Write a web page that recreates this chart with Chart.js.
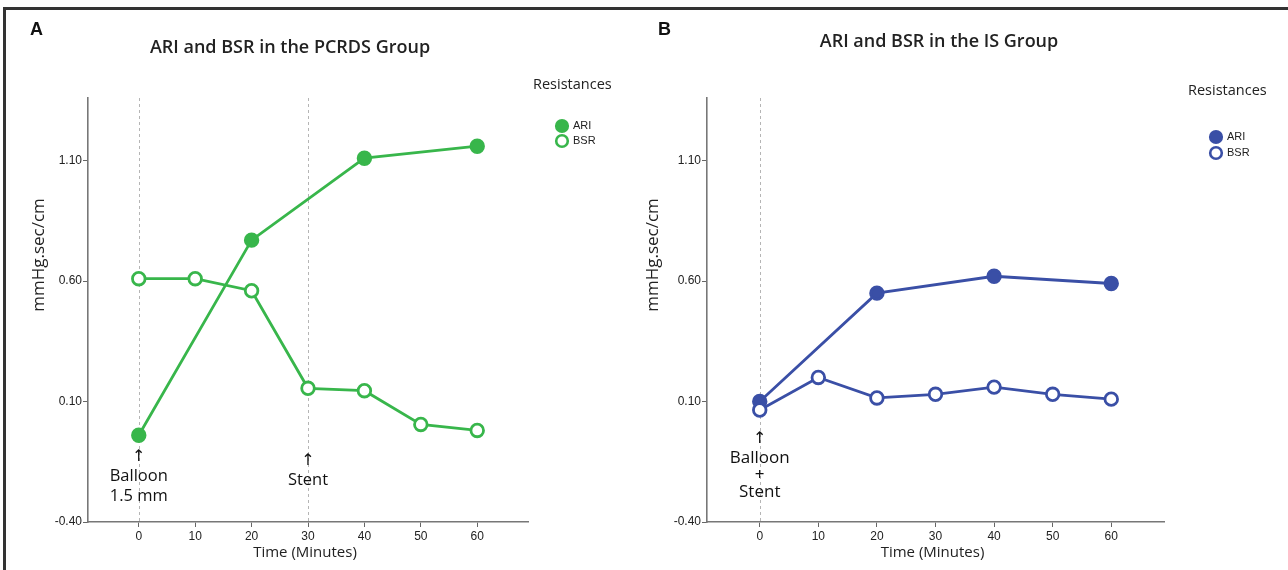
<!DOCTYPE html>
<html>
<head>
<meta charset="utf-8">
<script src="https://cdn.jsdelivr.net/npm/chart.js@4.4.1/dist/chart.umd.min.js"></script>
<style>
  html, body { margin: 0; padding: 0; background: #fff; }
  #wrap { position: relative; width: 1288px; height: 570px; overflow: hidden; }
  #frame { position: absolute; left: 3px; top: 7px; width: 1300px; height: 600px; border-top: 3px solid #333; border-left: 3px solid #333; }
  #panelA { position: absolute; left: 0; top: 0; }
  #panelB { position: absolute; left: 640px; top: 0; }
</style>
</head>
<body>
<div id="wrap">
  <div id="frame"></div>
  <canvas id="panelA" width="640" height="570"></canvas>
  <canvas id="panelB" width="648" height="570"></canvas>
</div>
<script>
// time points (minutes)
const minutes = [0, 10, 20, 30, 40, 50, 60];
const xTicks = [0, 10, 20, 30, 40, 50, 60];
const yTicks = [-0.40, 0.10, 0.60, 1.10];

// PCRDS group (panel A)
const ariPcrds = [-0.04, null, 0.77, null, 1.11, null, 1.16];
const bsrPcrds = [0.61, 0.61, 0.56, 0.155, 0.145, 0.005, -0.02];

// IS group (panel B)
const ariIs = [0.10, null, 0.55, null, 0.62, null, 0.59];
const bsrIs = [0.065, 0.20, 0.115, 0.13, 0.16, 0.13, 0.11];

const seriesNames = ['ARI', 'BSR'];
const green = '#38b64b';
const blue = '#3a4fa6';

const textFont = '"Open Sans", "Liberation Sans", sans-serif';

function toPoints(vals) {
    return minutes.map((m, i) => ({ x: m, y: vals[i] }));
}

function makeDataset(label, vals, color, filled, order) {
    return {
        label: label,
        data: toPoints(vals),
        borderColor: color,
        backgroundColor: filled ? color : '#ffffff',
        pointBackgroundColor: filled ? color : '#ffffff',
        pointBorderColor: color,
        pointBorderWidth: 2.8,
        pointRadius: 6.3,
        borderWidth: 2.8,
        spanGaps: true,
        tension: 0,
        order: order
    };
}

// draws all the extra text: panel letter, title, axis titles, legend, markers
const decorPlugin = {
    id: 'decor',
    beforeDatasetsDraw(chart) {
        const d = chart.options.plugins.decor;
        const ctx = chart.ctx;
        const xs = chart.scales.x, area = chart.chartArea;
        ctx.save();
        ctx.strokeStyle = '#b5b5b5';
        ctx.lineWidth = 1;
        ctx.setLineDash([3, 3]);
        d.marks.forEach(m => {
            const px = Math.round(xs.getPixelForValue(m)) + 0.5;
            ctx.beginPath();
            ctx.moveTo(px, area.top);
            ctx.lineTo(px, area.bottom);
            ctx.stroke();
        });
        ctx.restore();
    },
    afterDraw(chart) {
        const d = chart.options.plugins.decor;
        const ctx = chart.ctx;
        const xs = chart.scales.x, area = chart.chartArea;
        ctx.save();
        ctx.fillStyle = '#111';
        ctx.textBaseline = 'middle';

        ctx.font = 'bold 18px "Liberation Sans", sans-serif';
        ctx.textAlign = 'left';
        ctx.fillText(d.letter, d.letterX, 30);

        ctx.font = '600 18px ' + textFont;
        ctx.textAlign = 'center';
        ctx.fillStyle = '#222';
        ctx.fillText(d.title, d.titleX, d.titleY);

        // axis titles
        ctx.font = '500 15px ' + textFont;
        ctx.fillText('Time (Minutes)', (area.left + area.right) / 2 - 3, 553);
        ctx.save();
        ctx.translate(d.yTitleX, 255);
        ctx.rotate(-Math.PI / 2);
        ctx.font = '500 17px ' + textFont;
        ctx.fillText('mmHg.sec/cm', 0, 0);
        ctx.restore();

        // legend
        ctx.font = '500 14.5px ' + textFont;
        ctx.textAlign = 'left';
        ctx.fillText('Resistances', d.legX, d.legY);
        chart.data.datasets.forEach((ds, i) => {
            const ly = d.legMarkY + i * d.legGap;
            ctx.beginPath();
            ctx.arc(d.legMarkX, ly, 5.8, 0, Math.PI * 2);
            ctx.fillStyle = ds.pointBackgroundColor;
            ctx.fill();
            ctx.lineWidth = 2.6;
            ctx.strokeStyle = ds.borderColor;
            ctx.stroke();
            ctx.fillStyle = '#222';
            ctx.font = '11px "Liberation Sans", sans-serif';
            ctx.fillText(ds.label, d.legMarkX + 11, ly);
        });

        // event annotations under the curves
        ctx.fillStyle = '#111';
        ctx.textAlign = 'center';
        d.notes.forEach(n => {
            const px = xs.getPixelForValue(n.x);
            ctx.font = '16px "DejaVu Sans", sans-serif';
            ctx.fillText('\u2191', px, n.y);
            ctx.font = '500 ' + n.size + 'px ' + textFont;
            n.lines.forEach((t, j) => {
                ctx.fillText(t, px, n.y + 19 + j * n.step);
            });
        });
        ctx.restore();
    }
};

function makePanel(id, ari, bsr, color, decor, pad) {
    return new Chart(document.getElementById(id), {
        type: 'line',
        data: {
            datasets: [
                makeDataset(seriesNames[0], ari, color, true, 2),
                makeDataset(seriesNames[1], bsr, color, false, 1)
            ]
        },
        options: {
            responsive: false,
            animation: false,
            events: [],
            layout: { padding: { left: 0, right: pad.right, top: 98, bottom: 0 } },
            plugins: {
                legend: { display: false },
                tooltip: { enabled: false },
                title: { display: false },
                decor: decor
            },
            scales: {
                x: {
                    type: 'linear',
                    min: -9,
                    max: 69,
                    afterBuildTicks: s => { s.ticks = xTicks.map(v => ({ value: v })); },
                    afterFit: s => { s.height = 48; },
                    grid: { drawOnChartArea: false, drawTicks: true, tickLength: 5, color: '#666' },
                    border: { color: '#777', width: 1.6 },
                    ticks: {
                        color: '#222',
                        padding: 2,
                        maxRotation: 0,
                        font: { family: '"Liberation Sans", sans-serif', size: 12 },
                        callback: v => String(v)
                    }
                },
                y: {
                    type: 'linear',
                    min: -0.40,
                    max: 1.36,
                    afterBuildTicks: s => { s.ticks = yTicks.map(v => ({ value: v })); },
                    afterFit: s => { s.width = pad.left; },
                    grid: { drawOnChartArea: false, drawTicks: true, tickLength: 5, color: '#666' },
                    border: { color: '#777', width: 1.6 },
                    ticks: {
                        color: '#222',
                        padding: 1,
                        font: { family: '"Liberation Sans", sans-serif', size: 12 },
                        callback: v => v.toFixed(2)
                    }
                }
            }
        },
        plugins: [decorPlugin]
    });
}

makePanel('panelA', ariPcrds, bsrPcrds, green, {
    letter: 'A', letterX: 30,
    title: 'ARI and BSR in the PCRDS Group', titleX: 290, titleY: 48,
    yTitleX: 39,
    legX: 533, legY: 85, legMarkX: 562, legMarkY: 126, legGap: 15,
    marks: [0, 30],
    notes: [
        { x: 0, y: 457, size: 16.5, step: 20, lines: ['Balloon', '1.5 mm'] },
        { x: 30, y: 461, size: 16.5, step: 20, lines: ['Stent'] }
    ]
}, { left: 88, right: 112 });

makePanel('panelB', ariIs, bsrIs, blue, {
    letter: 'B', letterX: 18,
    title: 'ARI and BSR in the IS Group', titleX: 299, titleY: 42,
    yTitleX: 13,
    legX: 548, legY: 91, legMarkX: 576, legMarkY: 137, legGap: 16,
    marks: [0],
    notes: [
        { x: 0, y: 439, size: 17, step: 17, lines: ['Balloon', '+', 'Stent'] }
    ]
}, { left: 67, right: 124 });
</script>
</body>
</html>
